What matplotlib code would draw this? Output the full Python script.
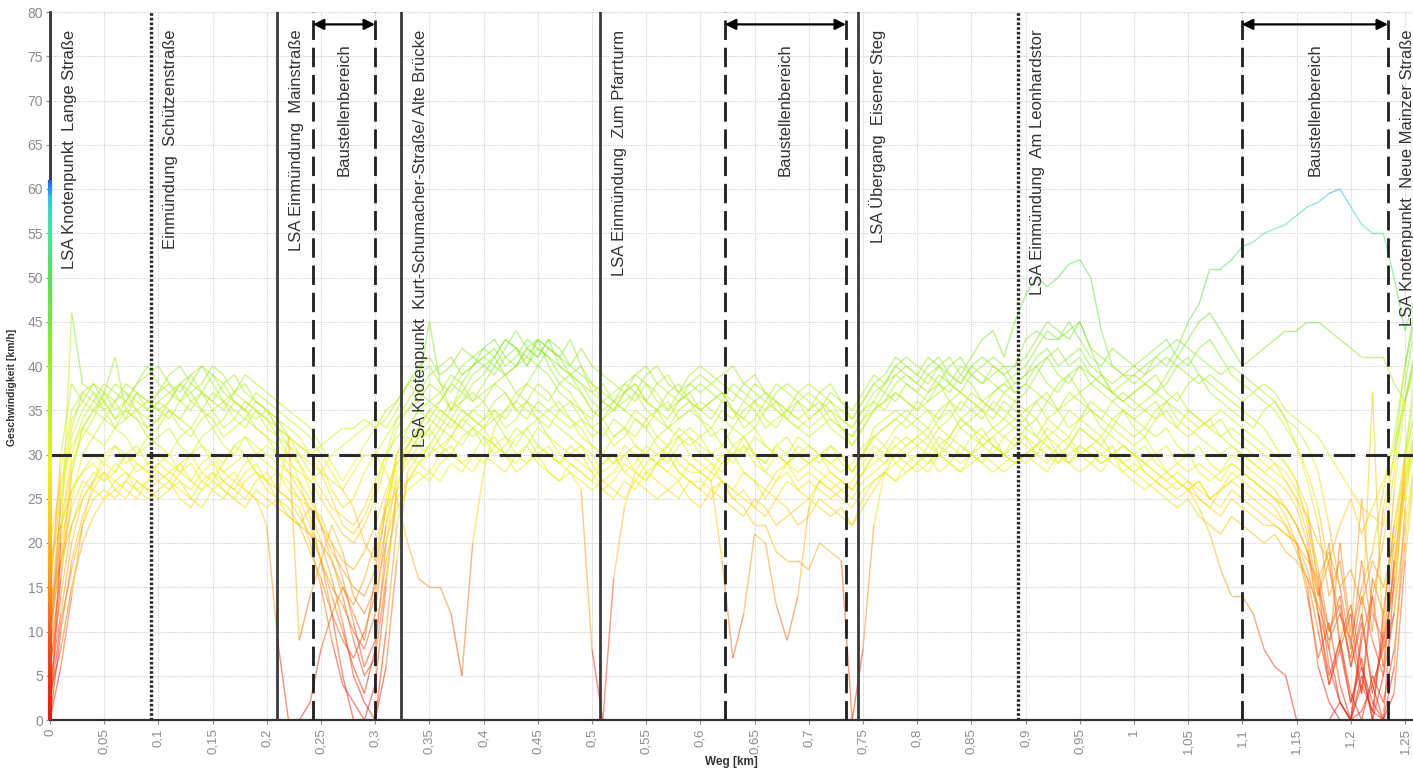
import numpy as np
import matplotlib
matplotlib.use("Agg")
import matplotlib.pyplot as plt
from matplotlib.collections import LineCollection
from matplotlib.colors import LinearSegmentedColormap, Normalize
from matplotlib.ticker import FuncFormatter, MultipleLocator

plt.rcParams["font.family"] = ["Liberation Sans", "DejaVu Sans"]

# Distance grid of the speed records (km)
weg_km = np.round(np.arange(127) * 0.01, 2)

# Speed profiles of the individual runs (km/h), one value per 10 m
s01 = [14, 30, 38, 36, 35, 37, 36, 34, 35, 36,
       37, 38, 36, 35, 37, 39, 38, 36, 35, 34,
       35, 33, 32, 31, 30, 31, 32, 33, 33, 34,
       33, 34, 36, 38, 39, 40, 38, 37, 39, 40,
       41, 42, 40, 41, 43, 42, 41, 40, 39, 38,
       36, 35, 36, 37, 38, 36, 35, 37, 38, 36,
       35, 36, 37, 35, 34, 36, 37, 35, 34, 36,
       37, 36, 35, 34, 33, 35, 37, 38, 39, 40,
       39, 38, 40, 41, 39, 41, 43, 44, 41, 45,
       48, 50, 49, 50, 51.5, 52, 50, 44, 40, 39,
       39, 40, 41, 40, 42, 45, 47, 51, 51, 52,
       53.5, 54, 55, 55.5, 56, 57, 58, 58.5, 59.5, 60,
       58, 56, 55, 55, 50, 44, 48]
s02 = [8, 25, 33, 37, 38, 36, 34, 36, 35, 33,
       34, 36, 38, 37, 35, 33, 34, 36, 35, 33,
       32, 30, 29, 28, 27, 28, 30, 31, 32, 33,
       34, 33, 35, 38, 37, 36, 37, 35, 38, 36,
       37, 38, 39, 40, 41, 40, 42, 41, 39, 37,
       35, 34, 35, 36, 37, 35, 34, 33, 35, 36,
       34, 33, 35, 34, 36, 35, 33, 34, 35, 36,
       34, 35, 33, 32, 31, 33, 35, 36, 38, 39,
       38, 37, 39, 38, 40, 39, 38, 39, 40, 40,
       43, 44, 43, 43, 44, 45, 42, 39, 37, 36,
       37, 38, 37, 39, 41, 43, 45, 46, 44, 42,
       40, 41, 42, 43, 44, 44, 45, 45, 44, 43,
       42, 41, 41, 41, 38, 36, 42]
s03 = [18, 22, 26, 28, 30, 29, 31, 30, 28, 29,
       30, 29, 28, 30, 31, 29, 28, 27, 29, 30,
       29, 28, 27, 25, 22, 18, 14, 10, 6, 3,
       8, 20, 28, 30, 32, 33, 31, 32, 34, 33,
       34, 35, 33, 34, 36, 35, 34, 33, 32, 31,
       29, 27, 28, 30, 31, 30, 29, 31, 32, 30,
       29, 28, 30, 29, 31, 30, 28, 27, 29, 30,
       29, 28, 27, 26, 27, 29, 31, 30, 32, 31,
       32, 33, 31, 32, 34, 33, 32, 33, 32, 31,
       33, 34, 32, 33, 35, 34, 33, 32, 34, 35,
       33, 32, 34, 35, 33, 32, 33, 34, 32, 31,
       30, 29, 28, 27, 26, 24, 20, 12, 4, 9,
       2, 6, 0, 12, 22, 30, 35]
s04 = [2, 16, 28, 33, 35, 34, 36, 37, 35, 34,
       36, 35, 34, 36, 37, 35, 36, 34, 33, 35,
       34, 32, 30, 27, 23, 18, 12, 5, 0, 0,
       4, 15, 26, 31, 33, 35, 36, 38, 37, 39,
       40, 39, 41, 42, 40, 43, 42, 41, 43, 40,
       37, 36, 35, 37, 36, 38, 37, 35, 36, 37,
       38, 37, 36, 38, 37, 36, 35, 37, 38, 37,
       36, 35, 37, 36, 34, 36, 38, 37, 39, 38,
       37, 39, 40, 38, 37, 39, 38, 40, 39, 37,
       38, 40, 41, 39, 38, 40, 39, 38, 37, 38,
       39, 38, 37, 38, 40, 41, 39, 38, 37, 36,
       35, 34, 33, 31, 29, 27, 22, 16, 8, 2,
       0, 5, 1, 10, 26, 36, 42]
s05 = [10, 18, 24, 27, 26, 28, 27, 26, 25, 27,
       28, 27, 26, 25, 27, 28, 26, 25, 27, 28,
       26, 25, 24, 22, 19, 16, 12, 9, 7, 10,
       14, 20, 25, 27, 29, 30, 31, 30, 32, 33,
       31, 32, 30, 29, 31, 33, 32, 30, 29, 28,
       27, 29, 30, 28, 27, 29, 30, 31, 29, 28,
       28, 27, 18, 7, 12, 21, 20, 13, 9, 14,
       24, 27, 28, 27, 26, 28, 29, 30, 31, 30,
       29, 31, 30, 32, 31, 30, 32, 31, 30, 29,
       30, 31, 32, 30, 31, 33, 32, 31, 30, 29,
       30, 31, 29, 28, 29, 30, 28, 27, 28, 29,
       28, 27, 26, 25, 23, 20, 14, 7, 11, 4,
       0, 9, 14, 6, 18, 27, 33]
s06 = [0, 20, 46, 38, 37, 35, 36, 38, 37, 35,
       36, 37, 38, 36, 35, 37, 36, 35, 34, 36,
       35, 34, 33, 32, 30, 28, 25, 22, 21, 23,
       26, 30, 34, 36, 38, 45, 38, 35, 36, 38,
       39, 41, 43, 42, 40, 42, 41, 39, 38, 37,
       35, 34, 36, 35, 34, 33, 35, 36, 34, 35,
       36, 35, 34, 33, 35, 36, 34, 33, 35, 34,
       33, 34, 35, 33, 32, 34, 35, 37, 36, 38,
       37, 36, 38, 37, 39, 38, 36, 37, 38, 39,
       40, 42, 44, 43, 45, 43, 41, 40, 42, 41,
       40, 39, 41, 42, 43, 42, 41, 40, 39, 40,
       39, 38, 37, 36, 34, 31, 27, 22, 14, 18,
       9, 3, 14, 20, 28, 38, 45]
s07 = [6, 14, 22, 26, 28, 27, 29, 28, 27, 26,
       27, 28, 29, 27, 26, 28, 27, 26, 28, 29,
       27, 26, 25, 24, 20, 15, 9, 4, 2, 0,
       0, 10, 22, 27, 29, 28, 30, 31, 29, 30,
       32, 31, 30, 32, 33, 31, 30, 29, 31, 30,
       28, 26, 27, 29, 28, 30, 29, 28, 27, 29,
       28, 29, 27, 26, 28, 27, 25, 27, 28, 26,
       27, 26, 25, 26, 25, 27, 28, 29, 30, 29,
       30, 29, 31, 30, 29, 30, 31, 32, 30, 29,
       30, 31, 30, 29, 31, 30, 29, 28, 30, 31,
       30, 29, 28, 27, 28, 27, 26, 25, 26, 27,
       26, 25, 24, 23, 22, 20, 15, 6, 2, 0,
       0, 1, 4, 0, 16, 28, 34]
s08 = [4, 12, 20, 25, 27, 28, 26, 27, 29, 28,
       27, 26, 28, 29, 27, 26, 27, 28, 26, 25,
       22, 9, 0, 0, 2, 8, 12, 15, 12, 9,
       16, 24, 29, 31, 33, 32, 34, 33, 35, 34,
       33, 35, 34, 36, 35, 34, 33, 35, 34, 32,
       31, 30, 32, 33, 31, 30, 32, 31, 33, 32,
       31, 30, 29, 31, 32, 30, 29, 31, 30, 32,
       31, 30, 29, 28, 29, 31, 32, 33, 34, 33,
       34, 35, 33, 34, 36, 35, 34, 36, 35, 34,
       35, 36, 34, 35, 37, 36, 35, 34, 36, 35,
       34, 35, 36, 34, 33, 35, 34, 33, 32, 33,
       32, 31, 30, 29, 28, 26, 23, 17, 10, 14,
       6, 12, 3, 9, 20, 30, 38]
s09 = [12, 24, 32, 35, 37, 36, 38, 37, 36, 35,
       37, 39, 40, 38, 37, 36, 38, 39, 37, 36,
       35, 34, 32, 30, 29, 28, 27, 26, 28, 30,
       30, 28, 25, 20, 16, 15, 15, 12, 5, 20,
       28, 33, 35, 36, 38, 37, 36, 38, 37, 35,
       34, 36, 35, 37, 38, 36, 35, 34, 36, 37,
       35, 36, 37, 35, 34, 33, 35, 36, 34, 33,
       34, 35, 36, 34, 33, 35, 36, 35, 37, 36,
       35, 36, 37, 38, 37, 36, 35, 37, 38, 37,
       38, 37, 36, 38, 39, 37, 38, 39, 37, 36,
       37, 38, 39, 37, 36, 38, 39, 37, 36, 35,
       34, 33, 35, 36, 34, 33, 31, 28, 22, 15,
       8, 18, 10, 24, 30, 40, 46]
s10 = [0, 10, 18, 23, 26, 25, 27, 28, 26, 27,
       29, 28, 27, 26, 28, 29, 27, 26, 25, 27,
       28, 26, 25, 23, 21, 18, 15, 13, 10, 8,
       12, 22, 30, 31, 33, 35, 34, 36, 35, 34,
       33, 31, 32, 30, 29, 31, 30, 29, 28, 26,
       8, 0, 16, 24, 28, 27, 29, 28, 30, 29,
       28, 27, 29, 30, 28, 27, 26, 28, 29, 27,
       28, 27, 26, 27, 26, 28, 30, 29, 31, 32,
       31, 30, 32, 31, 30, 32, 33, 31, 30, 31,
       32, 30, 29, 31, 32, 30, 31, 32, 30, 29,
       28, 29, 30, 28, 27, 26, 27, 25, 26, 28,
       27, 26, 25, 24, 22, 19, 16, 10, 4, 8,
       2, 7, 0, 5, 18, 26, 31]
s11 = [8, 16, 25, 30, 32, 31, 33, 32, 30, 31,
       32, 33, 31, 30, 32, 33, 31, 30, 32, 31,
       30, 29, 28, 27, 25, 22, 19, 17, 15, 14,
       17, 24, 30, 32, 31, 33, 35, 34, 33, 35,
       36, 34, 35, 37, 36, 34, 35, 36, 34, 33,
       31, 30, 29, 31, 30, 28, 29, 30, 28, 27,
       27, 26, 27, 25, 24, 22, 22, 19, 18, 18,
       17, 20, 19, 18, 0, 8, 22, 28, 30, 31,
       32, 31, 33, 32, 34, 33, 31, 32, 33, 34,
       33, 32, 34, 33, 32, 34, 35, 33, 32, 31,
       30, 29, 28, 27, 26, 27, 25, 24, 26, 27,
       28, 27, 26, 25, 24, 22, 19, 14, 20, 8,
       12, 3, 16, 12, 22, 28, 32]
s12 = [15, 26, 34, 36, 38, 37, 35, 36, 38, 40,
       38, 37, 36, 38, 40, 39, 37, 36, 35, 37,
       36, 35, 34, 33, 32, 30, 28, 26, 24, 20,
       18, 25, 30, 33, 35, 34, 36, 38, 40, 41,
       42, 43, 41, 40, 42, 43, 40, 38, 39, 40,
       38, 37, 36, 38, 39, 40, 38, 37, 36, 38,
       39, 38, 37, 36, 38, 39, 37, 36, 35, 34,
       35, 36, 34, 33, 32, 34, 36, 38, 40, 39,
       38, 40, 41, 39, 38, 40, 39, 38, 37, 36,
       37, 39, 41, 42, 40, 41, 39, 38, 37, 36,
       35, 36, 37, 36, 35, 34, 33, 34, 35, 34,
       33, 32, 31, 30, 29, 27, 24, 15, 6, 2,
       0, 10, 37, 8, 12, 30, 40]
s13 = [3, 8, 15, 20, 23, 25, 26, 25, 27, 26,
       25, 26, 27, 25, 24, 26, 25, 27, 26, 25,
       24, 25, 23, 22, 24, 23, 20, 16, 11, 6,
       9, 18, 24, 26, 27, 28, 27, 29, 28, 30,
       29, 31, 30, 28, 29, 30, 28, 27, 29, 28,
       27, 26, 25, 27, 26, 28, 27, 26, 25, 27,
       26, 25, 27, 26, 25, 24, 26, 25, 27, 26,
       25, 27, 26, 25, 24, 26, 27, 28, 27, 29,
       28, 29, 30, 29, 28, 30, 29, 28, 29, 30,
       29, 30, 31, 29, 30, 31, 30, 29, 30, 31,
       30, 28, 27, 26, 27, 26, 25, 24, 23, 25,
       24, 23, 22, 22, 21, 20, 17, 12, 5, 9,
       3, 0, 5, 2, 8, 20, 30]
s14 = [20, 27, 31, 33, 32, 34, 33, 35, 34, 32,
       33, 35, 34, 33, 35, 34, 32, 33, 34, 33,
       32, 31, 30, 29, 26, 22, 18, 14, 9, 5,
       7, 16, 26, 30, 32, 34, 33, 35, 37, 36,
       38, 40, 39, 37, 38, 40, 39, 37, 36, 35,
       33, 32, 34, 33, 32, 34, 35, 33, 32, 31,
       32, 33, 31, 30, 32, 33, 31, 30, 29, 31,
       30, 29, 31, 30, 28, 30, 32, 33, 34, 35,
       34, 33, 35, 36, 34, 35, 36, 35, 34, 33,
       34, 32, 31, 30, 29, 31, 30, 29, 30, 28,
       27, 26, 27, 28, 27, 26, 24, 21, 17, 14,
       14, 12, 8, 6, 5, 0, 0, 0, 0, 2,
       0, 4, 1, 0, 6, 24, 34]
s15 = [0, 6, 14, 22, 27, 30, 31, 29, 30, 32,
       31, 30, 32, 33, 31, 30, 29, 31, 32, 30,
       31, 30, 28, 26, 24, 20, 16, 11, 5, 2,
       0, 6, 18, 28, 30, 31, 33, 32, 34, 35,
       34, 36, 37, 35, 34, 36, 35, 34, 33, 34,
       32, 33, 31, 32, 34, 33, 31, 30, 32, 33,
       32, 30, 31, 33, 32, 30, 29, 31, 32, 30,
       31, 30, 29, 30, 28, 30, 32, 31, 33, 34,
       33, 32, 34, 35, 33, 34, 35, 33, 34, 36,
       35, 34, 36, 35, 33, 34, 36, 35, 34, 33,
       32, 33, 35, 36, 34, 33, 32, 31, 30, 31,
       30, 29, 28, 29, 27, 25, 21, 14, 18, 9,
       13, 6, 2, 0, 3, 18, 29]
s16 = [10, 22, 30, 34, 36, 35, 33, 34, 37, 36,
       35, 34, 36, 37, 38, 40, 39, 37, 36, 35,
       34, 33, 32, 31, 30, 29, 26, 24, 25, 28,
       30, 32, 34, 35, 36, 38, 37, 39, 38, 40,
       41, 40, 42, 44, 42, 41, 43, 42, 40, 39,
       38, 36, 37, 38, 37, 39, 40, 38, 37, 39,
       40, 39, 38, 37, 36, 38, 37, 36, 35, 37,
       38, 37, 36, 35, 34, 36, 38, 39, 41, 40,
       39, 41, 40, 39, 38, 40, 41, 40, 39, 40,
       41, 43, 45, 44, 43, 45, 42, 41, 40, 39,
       40, 41, 42, 43, 41, 40, 42, 43, 41, 39,
       38, 37, 36, 35, 33, 31, 28, 24, 17, 12,
       9, 15, 19, 26, 32, 40, 47]
s17 = [13, 18, 22, 25, 27, 29, 28, 30, 29, 28,
       29, 30, 28, 27, 29, 30, 28, 29, 30, 28,
       27, 25, 32, 9, 14, 18, 22, 19, 14, 12,
       15, 22, 27, 29, 31, 30, 32, 34, 33, 32,
       33, 34, 32, 31, 33, 34, 32, 31, 30, 29,
       28, 29, 30, 28, 29, 31, 30, 29, 31, 32,
       30, 29, 28, 30, 31, 29, 28, 30, 29, 28,
       29, 30, 28, 27, 26, 28, 30, 31, 29, 30,
       31, 32, 30, 31, 33, 32, 31, 30, 32, 33,
       32, 31, 33, 32, 31, 33, 32, 31, 33, 32,
       31, 32, 30, 31, 29, 28, 29, 28, 27, 29,
       28, 27, 26, 25, 24, 22, 19, 12, 8, 20,
       10, 25, 12, 9, 15, 26, 33]
s18 = [16, 28, 35, 37, 36, 38, 37, 36, 38, 39,
       40, 38, 37, 39, 40, 38, 36, 37, 39, 38,
       37, 36, 35, 34, 33, 31, 29, 27, 29, 31,
       33, 35, 36, 38, 40, 41, 39, 40, 42, 41,
       40, 41, 43, 42, 41, 43, 42, 41, 40, 42,
       40, 39, 38, 37, 39, 38, 36, 35, 37, 38,
       37, 38, 39, 40, 38, 37, 36, 38, 37, 36,
       35, 37, 38, 36, 35, 37, 39, 38, 40, 41,
       40, 39, 38, 40, 41, 39, 40, 41, 40, 38,
       39, 41, 42, 40, 41, 42, 40, 39, 38, 39,
       38, 39, 40, 41, 40, 39, 38, 39, 38, 37,
       36, 37, 38, 37, 35, 34, 33, 32, 30, 28,
       26, 24, 23, 22, 30, 36, 41]
s19 = [5, 18, 28, 33, 35, 36, 34, 35, 37, 36,
       35, 36, 38, 39, 37, 36, 35, 37, 38, 36,
       35, 33, 31, 29, 27, 25, 23, 21, 20, 22,
       25, 29, 33, 35, 37, 39, 40, 41, 39, 40,
       42, 41, 39, 40, 42, 41, 43, 40, 39, 38,
       37, 38, 36, 35, 37, 36, 38, 39, 37, 36,
       35, 34, 36, 35, 33, 34, 36, 35, 34, 33,
       32, 33, 34, 33, 31, 33, 35, 36, 37, 36,
       35, 37, 38, 36, 35, 37, 36, 35, 37, 38,
       39, 40, 38, 37, 39, 40, 38, 37, 36, 37,
       36, 35, 34, 36, 37, 35, 34, 33, 34, 32,
       31, 30, 29, 28, 27, 25, 23, 20, 18, 22,
       25, 21, 24, 27, 31, 36, 40]
s20 = [9, 20, 26, 28, 29, 27, 28, 30, 31, 29,
       28, 27, 29, 30, 28, 27, 29, 31, 30, 28,
       27, 28, 26, 25, 24, 22, 20, 18, 17, 19,
       22, 26, 29, 30, 29, 31, 30, 32, 31, 33,
       32, 30, 31, 33, 32, 30, 31, 29, 30, 31,
       30, 28, 29, 30, 28, 27, 29, 30, 28, 27,
       26, 28, 27, 25, 26, 24, 23, 25, 24, 22,
       23, 25, 24, 23, 22, 24, 26, 28, 29, 28,
       29, 30, 28, 29, 31, 30, 29, 31, 30, 32,
       31, 30, 32, 31, 29, 30, 31, 30, 29, 28,
       29, 28, 27, 26, 25, 26, 27, 25, 24, 26,
       25, 24, 23, 22, 21, 20, 18, 16, 19, 15,
       17, 13, 18, 15, 20, 27, 32]
s21 = [11, 21, 29, 32, 34, 37, 41, 35, 34, 33,
       34, 35, 33, 32, 34, 35, 33, 34, 36, 35,
       33, 32, 31, 30, 28, 26, 24, 23, 22, 24,
       27, 30, 32, 33, 35, 36, 35, 34, 36, 37,
       36, 38, 37, 35, 36, 38, 37, 35, 36, 34,
       33, 34, 32, 33, 35, 34, 32, 33, 34, 35,
       34, 32, 33, 31, 30, 32, 31, 30, 29, 30,
       29, 30, 31, 29, 28, 30, 33, 34, 35, 34,
       36, 35, 34, 36, 37, 36, 35, 34, 36, 35,
       34, 36, 37, 35, 36, 37, 35, 34, 33, 35,
       34, 33, 32, 33, 31, 30, 31, 29, 28, 30,
       29, 28, 27, 26, 24, 22, 19, 15, 10, 13,
       6, 11, 4, 8, 17, 29, 36]
s22 = [2, 11, 17, 22, 25, 26, 25, 27, 26, 25,
       26, 27, 25, 24, 26, 27, 26, 25, 24, 26,
       25, 24, 23, 22, 21, 20, 18, 15, 13, 16,
       20, 24, 26, 27, 28, 27, 29, 30, 29, 28,
       30, 29, 28, 30, 31, 29, 28, 27, 28, 27,
       26, 27, 26, 25, 27, 26, 25, 26, 27, 25,
       24, 26, 25, 24, 23, 25, 24, 22, 23, 24,
       25, 24, 23, 24, 22, 25, 27, 28, 27, 28,
       29, 28, 30, 29, 28, 29, 30, 29, 28, 29,
       30, 29, 28, 30, 29, 28, 29, 30, 31, 29,
       28, 27, 26, 25, 24, 25, 23, 22, 21, 23,
       22, 21, 20, 21, 19, 18, 16, 13, 9, 12,
       7, 14, 9, 5, 12, 22, 30]
fahrten = [s01, s02, s03, s04, s05, s06, s07, s08, s09, s10, s11,
           s12, s13, s14, s15, s16, s17, s18, s19, s20, s21, s22]

# Signal / junction positions along the route (km)
knoten_x = [0.0, 0.0932, 0.2094, 0.3238, 0.5074, 0.7454, 0.8930, 1.2343]
knoten_namen = ["LSA Knotenpunkt  Lange Straße",
                "Einmündung  Schützenstraße",
                "LSA Einmündung  Mainstraße",
                "LSA Knotenpunkt  Kurt-Schumacher-Straße/ Alte Brücke",
                "LSA Einmündung  Zum Pfarrturm",
                "LSA Übergang  Eisener Steg",
                "LSA Einmündung  Am Leonhardstor",
                "LSA Knotenpunkt  Neue Mainzer Straße"]
knoten_stil = ["solid", "dotted", "solid", "solid", "solid", "solid", "dotted", "none"]

# Construction zones (km)
baustelle_von = [0.2426, 0.6227, 1.0996]
baustelle_bis = [0.2998, 0.7343, 1.2343]
baustelle_text = "Baustellenbereich"

v_zul = 30  # speed limit (km/h)

# ---------------------------------------------------------------------------
W, H = 1413, 772
fig = plt.figure(figsize=(W / 100, H / 100), dpi=100)
ax = fig.add_axes([50 / W, 52 / H, 1 - 50 / W, 708 / H])
ax.set_xlim(0, 1.2574)
ax.set_ylim(0, 80)

cmap = LinearSegmentedColormap.from_list("speed", [
    (0.00, "#e01c10"), (8 / 62, "#ee4a18"), (15 / 62, "#f79422"),
    (22 / 62, "#f8c81e"), (28 / 62, "#eef01c"), (34 / 62, "#c6f02a"),
    (42 / 62, "#8ee83a"), (50 / 62, "#5cde56"), (56 / 62, "#4adfa8"),
    (59 / 62, "#3ac4e6"), (1.00, "#1434f0")])
norm = Normalize(0, 62)

# speed traces, each segment coloured by its speed; slow parts drawn on top
segs, vals = [], []
for v in fahrten:
    v = np.asarray(v, dtype=float)
    pts = np.column_stack([weg_km, v])
    segs.append(np.stack([pts[:-1], pts[1:]], axis=1))
    vals.append((v[:-1] + v[1:]) / 2)
segs = np.concatenate(segs)
vals = np.concatenate(vals)
order = np.argsort(-vals, kind="stable")
lc = LineCollection(segs[order], cmap=cmap, norm=norm, linewidths=1.0,
                    alpha=0.55, zorder=2)
lc.set_array(vals[order])
ax.add_collection(lc)

# colour scale along the left axis
yy = np.linspace(0, 61, 200)
grad = np.stack([np.column_stack([np.zeros(199), yy[:-1]]),
                 np.column_stack([np.zeros(199), yy[1:]])], axis=1)
gl = LineCollection(grad, cmap=cmap, norm=norm, linewidths=3, zorder=6,
                    clip_on=False)
gl.set_array((yy[:-1] + yy[1:]) / 2)
ax.add_collection(gl)

# grid
ax.grid(True, color="#d2d2d2", linestyle=(0, (1, 1)), linewidth=0.8, zorder=0)
ax.set_axisbelow(True)

# speed limit
ax.axhline(v_zul, color="#2a2a2a", lw=2.2, ls=(0, (7, 3.5)), zorder=4)

# junction lines and labels
for xk, name, stil in zip(knoten_x, knoten_namen, knoten_stil):
    if stil == "solid":
        ax.axvline(xk, color="#3a3a3a", lw=2.0, zorder=4)
    elif stil == "dotted":
        ax.axvline(xk, color="#2a2a2a", lw=2.4, ls=(0, (0.8, 0.6)), zorder=4)
    ax.text(xk + 0.0180, 78.0, name, rotation=90, ha="center", va="top",
            fontsize=12, color="#333333", zorder=5, clip_on=False)

# construction zones
for x0, x1 in zip(baustelle_von, baustelle_bis):
    for xb in (x0, x1):
        ax.axvline(xb, color="#1e1e1e", lw=2.0, ls=(0, (7, 2.8)), zorder=4)
    ax.annotate("", xy=(x1, 78.6), xytext=(x0, 78.6),
                arrowprops=dict(arrowstyle="<|-|>", color="black", lw=1.6,
                                mutation_scale=16, shrinkA=0, shrinkB=0),
                zorder=5)
    ax.text((x0 + x1) / 2, 69.0, baustelle_text, rotation=90, ha="center",
            va="center", fontsize=12, color="#333333", zorder=5)

# axes styling
ax.xaxis.set_major_locator(MultipleLocator(0.05))
ax.yaxis.set_major_locator(MultipleLocator(5))


def komma(v, pos):
    s = f"{v:.2f}".rstrip("0").rstrip(".")
    return s.replace(".", ",")


ax.xaxis.set_major_formatter(FuncFormatter(komma))
ax.tick_params(axis="x", labelrotation=90, labelsize=9.5, colors="#8c8c8c",
               length=3, width=0.8, pad=3)
ax.tick_params(axis="y", labelsize=10, colors="#8c8c8c", length=3, width=0.8,
               pad=2)

for side in ("top", "right"):
    ax.spines[side].set_visible(False)
ax.spines["bottom"].set_color("#333333")
ax.spines["bottom"].set_linewidth(1.6)
ax.spines["left"].set_color("#333333")
ax.spines["left"].set_linewidth(2.0)
ax.spines["left"].set_bounds(61, 80)

ax.set_xlabel("Weg [km]", fontsize=8.5, fontweight="bold", color="#333333",
              labelpad=1)
ax.set_ylabel("Geschwindigkeit [km/h]", fontsize=7.5, fontweight="bold",
              color="#333333", labelpad=4)
ax.yaxis.set_label_coords(-0.0245, 0.47)

fig.savefig("out.png", dpi=100)
